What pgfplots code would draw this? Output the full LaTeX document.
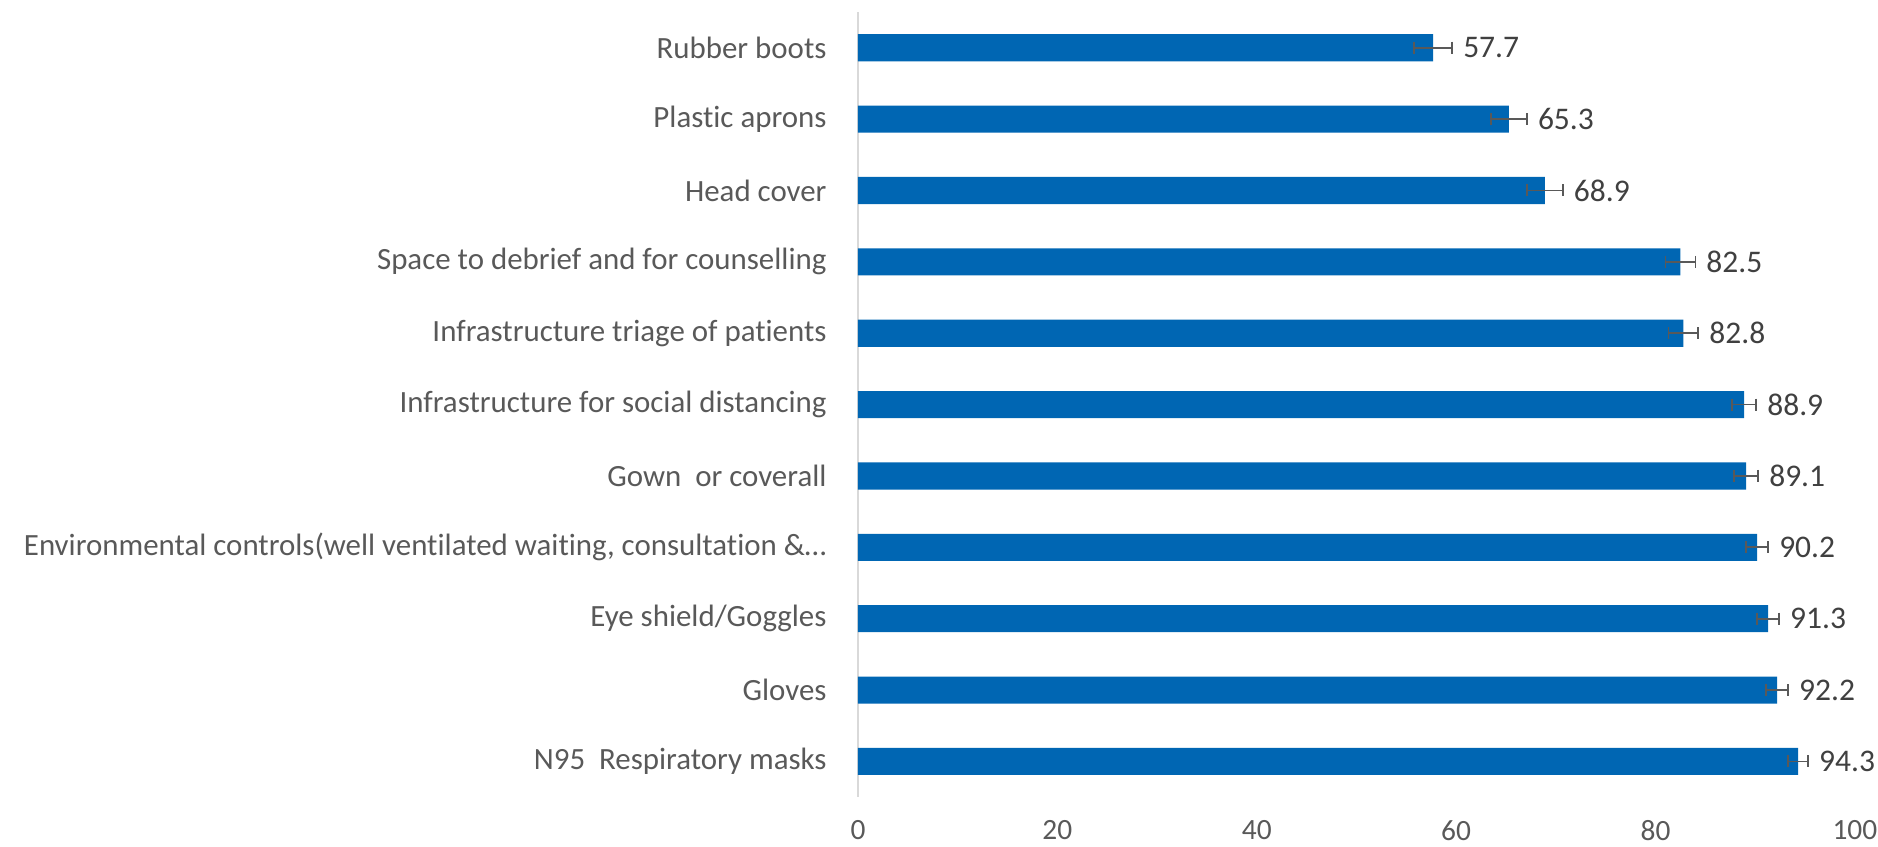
\documentclass[border=0pt]{standalone}
\usepackage{fontspec}
\setmainfont{Carlito}[Ligatures={NoCommon}]
\usepackage{pgfplots}
\usepackage{pgfplotstable}
\pgfplotsset{compat=1.18}
\definecolor{barblue}{HTML}{0066B3}
\definecolor{labgray}{HTML}{595959}
\definecolor{valgray}{HTML}{404040}
\definecolor{axgray}{HTML}{D9D9D9}

% pos = category row (0 = top), val = percent, err = half width of error bar
\pgfplotstableread{
pos val err lab
0 57.7 1.9 57.7
1 65.3 1.8 65.3
2 68.9 1.8 68.9
3 82.5 1.5 82.5
4 82.8 1.5 82.8
5 88.9 1.2 88.9
6 89.1 1.2 89.1
7 90.2 1.1 90.2
8 91.3 1.1 91.3
9 92.2 1.1 92.2
10 94.3 1.0 94.3
}\ppedata

\begin{document}
\begin{tikzpicture}
\useasboundingbox (-286pt,-16.3pt) rectangle (340pt,265.7pt);
\begin{axis}[
  at={(0pt,0pt)}, anchor=south west,
  scale only axis,
  width=332.3pt,
  height=261.7pt,
  xmin=0, xmax=100,
  ymin=-0.5, ymax=10.5,
  y dir=reverse,
  xtick={0,20,...,100},
  ytick={0,...,10},
  yticklabels={
    Rubber boots,
    Plastic aprons,
    Head cover,
    Space to debrief and for counselling,
    Infrastructure triage of patients,
    Infrastructure for social distancing\ ,
    Gown\ \ or coverall,
    {Environmental controls(well ventilated waiting, consultation \&…},
    Eye shield/Goggles,
    Gloves,
    N95\ \ Respiratory masks},
  axis lines*=left,
  x axis line style={draw=none, -},
  y axis line style={draw=axgray, line width=0.6pt, -},
  major tick length=0pt,
  /pgf/number format/assume math mode=true,
  xticklabel style={font=\fontsize{9.8}{11}\selectfont, text=labgray, inner sep=0pt, yshift=-7.6pt},
  yticklabel style={font=\fontsize{10.3}{12}\selectfont, text=labgray, inner sep=0pt, xshift=-10.3pt},
  clip=false,
]
\addplot[xbar, bar width=0.38, fill=barblue, draw=none,
  error bars/.cd, x dir=both, x explicit,
  error bar style={color=labgray, line width=0.6pt},
  error mark options={color=labgray, line width=0.6pt, mark size=2pt, rotate=90}]
  table[x=val, y=pos, x error=err] {\ppedata};
\addplot[draw=none, mark=none,
  nodes near coords, point meta=explicit symbolic,
  nodes near coords style={anchor=west, xshift=3.5pt, inner sep=0pt,
    font=\fontsize{10.5}{12}\selectfont, text=valgray}]
  table[x expr=\thisrow{val}+\thisrow{err}, y=pos, meta=lab] {\ppedata};
\end{axis}
\end{tikzpicture}
\end{document}
